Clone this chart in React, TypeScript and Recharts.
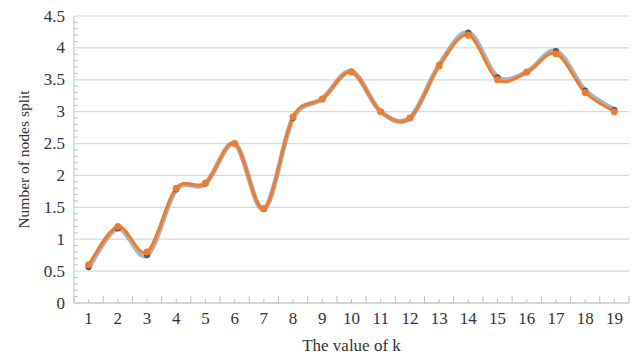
import { CartesianGrid, Line, LineChart, XAxis, YAxis } from "recharts";

const kValues = ["1", "2", "3", "4", "5", "6", "7", "8", "9", "10", "11", "12", "13", "14", "15", "16", "17", "18", "19"];
const splitOrange = [0.6, 1.2, 0.8, 1.8, 1.88, 2.5, 1.48, 2.92, 3.2, 3.62, 3.0, 2.9, 3.72, 4.2, 3.5, 3.62, 3.91, 3.3, 3.0];
const splitGray = [0.56, 1.17, 0.75, 1.78, 1.87, 2.5, 1.47, 2.9, 3.2, 3.63, 3.0, 2.9, 3.73, 4.24, 3.54, 3.62, 3.95, 3.33, 3.03];
const yTicks = [0, 0.5, 1, 1.5, 2, 2.5, 3, 3.5, 4, 4.5];

const data = kValues.map((k, i) => ({ k, gray: splitGray[i], orange: splitOrange[i] }));

const W = 640;
const H = 357;
const margin = { top: 16, right: 11, bottom: 4, left: 14 };
const yAxisWidth = 60;
const xAxisHeight = 50;
const plotW = W - margin.left - margin.right - yAxisWidth;
const plotH = H - margin.top - margin.bottom - xAxisHeight;
const band = plotW / kValues.length;
const minorStep = plotH / 45;

const font = "'Liberation Serif', 'DejaVu Serif', serif";
const textColor = "#333333";
const axisColor = "#bfbfbf";

// Excel-style smoothed line (Catmull-Rom through every point)
const smoothCurve = (context: any) => {
  let pts: number[][] = [];
  return {
    areaStart() {},
    areaEnd() {},
    lineStart() {
      pts = [];
    },
    lineEnd() {
      const n = pts.length;
      if (!n) return;
      context.moveTo(pts[0][0], pts[0][1]);
      for (let i = 0; i < n - 1; i++) {
        const p0 = pts[Math.max(i - 1, 0)];
        const p1 = pts[i];
        const p2 = pts[i + 1];
        const p3 = pts[Math.min(i + 2, n - 1)];
        context.bezierCurveTo(
          p1[0] + (p2[0] - p0[0]) / 6,
          p1[1] + (p2[1] - p0[1]) / 6,
          p2[0] - (p3[0] - p1[0]) / 6,
          p2[1] - (p3[1] - p1[1]) / 6,
          p2[0],
          p2[1]
        );
      }
    },
    point(x: number, y: number) {
      pts.push([+x, +y]);
    }
  };
};

function XTick(props: any) {
  const { x, y, payload, index } = props;
  return (
    <g>
      <line x1={x} x2={x} y1={y} y2={y - 4} stroke={axisColor} />
      <line x1={x + band / 2} x2={x + band / 2} y1={y} y2={y - 7} stroke={axisColor} />
      {index === 0 && <line x1={x - band / 2} x2={x - band / 2} y1={y} y2={y - 7} stroke={axisColor} />}
      <text x={x} y={y + 21} textAnchor="middle" fontFamily={font} fontSize={17} fill={textColor}>
        {payload.value}
      </text>
    </g>
  );
}

function YTick(props: any) {
  const { x, y, payload } = props;
  const minors = payload.value < 4.5 ? [1, 2, 3, 4] : [];
  return (
    <g>
      {minors.map((m) => (
        <line key={m} x1={x} x2={x + 4} y1={y - m * minorStep} y2={y - m * minorStep} stroke={axisColor} />
      ))}
      <text x={x - 9} y={y + 5.5} textAnchor="end" fontFamily={font} fontSize={17} fill={textColor}>
        {payload.value}
      </text>
    </g>
  );
}

export default function App() {
  return (
    <div style={{ width: W, height: H, background: "#fff" }}>
      <style>{`body{margin:0}`}</style>
      <LineChart width={W} height={H} data={data} margin={margin}>
        <CartesianGrid stroke="#d9d9d9" strokeWidth={1.2} vertical={false} />
        <XAxis
          dataKey="k"
          scale="band"
          height={xAxisHeight}
          axisLine={{ stroke: axisColor }}
          tickLine={false}
          tickSize={0}
          tickMargin={0}
          interval={0}
          tick={<XTick />}
          label={{ value: "The value of k", position: "center", dy: 17, fontFamily: font, fontSize: 17, fill: textColor }}
        />
        <YAxis
          width={yAxisWidth}
          domain={[0, 4.5]}
          ticks={yTicks}
          axisLine={{ stroke: axisColor }}
          tickLine={false}
          tickSize={0}
          tickMargin={0}
          interval={0}
          tick={<YTick />}
          label={{ value: "Number of nodes split", angle: -90, position: "center", dx: -21, fontFamily: font, fontSize: 15.5, fill: textColor }}
        />
        <Line
          dataKey="gray"
          type={smoothCurve as any}
          stroke="#93a3ab"
          strokeWidth={5}
          strokeOpacity={0.8}
          dot={{ r: 3, fill: "#555555", stroke: "none" }}
          isAnimationActive={false}
        />
        <Line
          dataKey="orange"
          type={smoothCurve as any}
          stroke="#ed7d31"
          strokeWidth={3}
          dot={{ r: 3.5, fill: "#ed7d31", stroke: "none" }}
          isAnimationActive={false}
        />
      </LineChart>
    </div>
  );
}
